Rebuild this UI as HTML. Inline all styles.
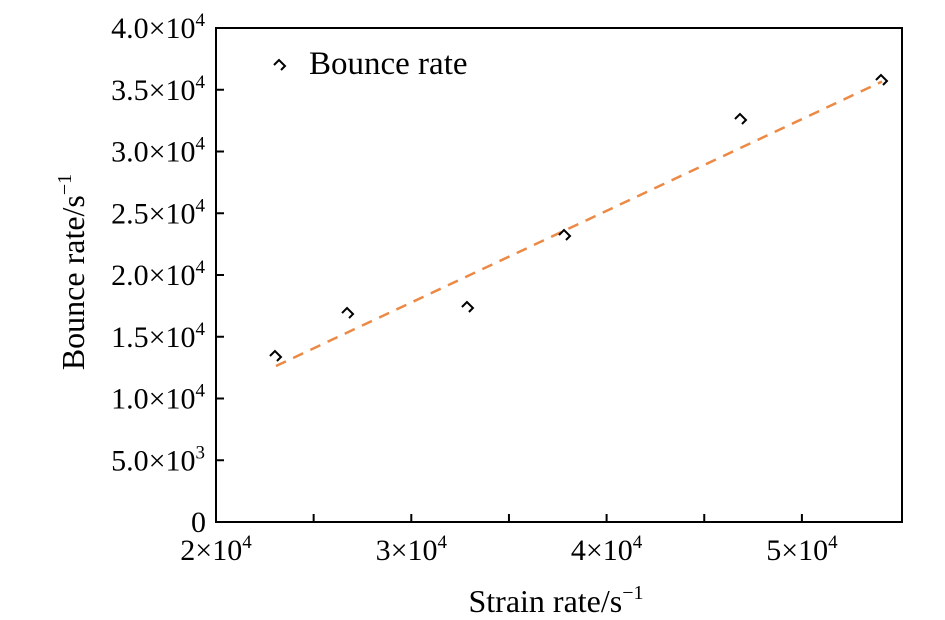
<!DOCTYPE html>
<html><head><meta charset="utf-8"><style>
body{margin:0;background:#fff}
svg{display:block;font-family:"Liberation Serif",serif}
</style></head><body>
<svg id="chart" width="945" height="620" viewBox="0 0 945 620" xmlns="http://www.w3.org/2000/svg"></svg>
<script>
const xVals=[23070,26760,32900,37870,46880,54100];
const yVals=[13440,16920,17410,23240,32630,35790];
const fitX=[23070,54100];
const fitSlope=[0.7423];
const fitIntercept=[-4495];
const xTicks=[20000,30000,40000,50000];
const xTickLabels=["2","3","4","5"];
const xMinorTicks=[25000,35000,45000];
const yTicks=[0,5000,10000,15000,20000,25000,30000,35000,40000];
const yTickMant=["0","5.0","1.0","1.5","2.0","2.5","3.0","3.5","4.0"];
const yTickExp=["","3","4","4","4","4","4","4","4"];

const L=216,R=902,T=28,B=522;
const sx=v=>L+(v-20000)/10000*195.3;
const sy=v=>B-v/40000*(B-T);
const svg=document.getElementById('chart');
const NS="http://www.w3.org/2000/svg";
function mk(tag,attrs,parent){const e=document.createElementNS(NS,tag);for(const k in attrs)e.setAttribute(k,attrs[k]);(parent||svg).appendChild(e);return e;}

const frame=mk('rect',{x:L,y:T,width:R-L,height:B-T,fill:'none',stroke:'#000','stroke-width':2});



xTicks.forEach((v,i)=>{
  const t=mk('line',{x1:sx(v),x2:sx(v),y1:B,y2:B-8,stroke:'#000','stroke-width':2});
  
  
  const tx=mk('text',{x:sx(v),y:560,'font-size':30,'text-anchor':'middle'});
  
  
  tx.innerHTML=xTickLabels[i]+'×10<tspan font-size="19" dy="-12">4</tspan>';
});
xMinorTicks.forEach(v=>{
  const t=mk('line',{x1:sx(v),x2:sx(v),y1:B,y2:B-8,stroke:'#000','stroke-width':2});
  
  
});
yTicks.forEach((v,i)=>{
  const t=mk('line',{x1:L,x2:L+8,y1:sy(v),y2:sy(v),stroke:'#000','stroke-width':2});
  
  
  const tx=mk('text',{x:yTickExp[i]?205:206,y:sy(v)+10,'font-size':30,'text-anchor':'end'});
  
  
  tx.innerHTML=yTickExp[i]?yTickMant[i]+'×10<tspan font-size="19" dy="-12">'+yTickExp[i]+'</tspan>':yTickMant[i];
});

const fl=mk('line',{x1:sx(fitX[0]),y1:sy(fitSlope[0]*fitX[0]+fitIntercept[0]),x2:sx(fitX[1]),y2:sy(fitSlope[0]*fitX[1]+fitIntercept[0]),stroke:'#ec8a45','stroke-width':2.5,'stroke-dasharray':'11,8'});



function marker(cx,cy){
  return mk('path',{d:`M${cx-6},${cy} L${cx-1},${cy-5} L${cx+5},${cy+1} L${cx+1},${cy+5}`,fill:'none',stroke:'#000','stroke-width':2});
}
xVals.forEach((v,i)=>{
  const m=marker(sx(v),sy(yVals[i]));
  
  
});

const lm=marker(280,65);


const lt=mk('text',{x:309,y:74,'font-size':33});


lt.textContent='Bounce rate';

const xt=mk('text',{x:556,y:612,'font-size':32,'text-anchor':'middle'});


xt.innerHTML='Strain rate/s<tspan font-size="20" dy="-13">−1</tspan>';
const yt=mk('text',{x:0,y:0,'font-size':32,'text-anchor':'middle',transform:'translate(84,272) rotate(-90)'});


yt.innerHTML='Bounce rate/s<tspan font-size="20" dy="-13">−1</tspan>';
</script>
</body></html>
